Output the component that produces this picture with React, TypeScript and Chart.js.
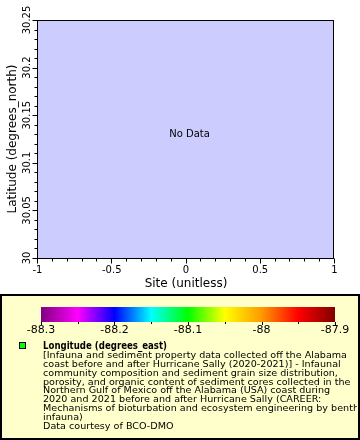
import React, { useEffect, useRef } from 'react';
import { Chart, registerables } from 'chart.js';

Chart.register(...registerables);

// ---- data ----
const xRange = [-1, 1];
const yRange = [30, 30.25];
const xTicks = [-1, -0.5, 0, 0.5, 1];
const xTickLabels = ['-1', '-0.5', '0', '0.5', '1'];
const xMinorStep = 0.1;
const yTicks = [30, 30.05, 30.1, 30.15, 30.2, 30.25];
const yTickLabels = ['30', '30.05', '30.1', '30.15', '30.2', '30.25'];
const yMinorStep = 0.01;
const siteValues: number[] = [];
const latitudeValues: number[] = [];
const xTitle = 'Site (unitless)';
const yTitle = 'Latitude (degrees_north)';
const noDataText = 'No Data';

const colorbarRange = [-88.3, -87.9];
const colorbarTicks = [-88.3, -88.2, -88.1, -88, -87.9];
const colorbarLabels = ['-88.3', '-88.2', '-88.1', '-88', '-87.9'];
const colorbarMinorStep = 0.05;
const colorbarColors = ['#800080', '#ff00ff', '#0000ff', '#00ffff', '#00ff00', '#ffff00', '#ff9900', '#ff0000', '#800000'];

const legendTitle = 'Longitude (degrees_east)';
const legendLines = [
  '[Infauna and sediment property data collected off the Alabama',
  'coast before and after Hurricane Sally (2020-2021)] - Infaunal',
  'community composition and sediment grain size distribution,',
  'porosity, and organic content of sediment cores collected in the',
  'Northern Gulf of Mexico off the Alabama (USA) coast during',
  '2020 and 2021 before and after Hurricane Sally (CAREER:',
  'Mechanisms of bioturbation and ecosystem engineering by benthic',
  'infauna)',
  'Data courtesy of BCO-DMO',
];

const FONT = '"DejaVu Sans", sans-serif';

function steps(min: number, max: number, step: number): number[] {
  const out: number[] = [];
  const n = Math.round((max - min) / step);
  for (let i = 0; i <= n; i++) out.push(min + i * step);
  return out;
}

const drawPlugin = {
  id: 'erddapDraw',
  beforeDraw(chart: any) {
    const ctx: CanvasRenderingContext2D = chart.ctx;
    const { left, right, top, bottom } = chart.chartArea;
    ctx.save();
    ctx.fillStyle = '#ffffff';
    ctx.fillRect(0, 0, chart.width, chart.height);
    ctx.fillStyle = '#ccccff';
    ctx.fillRect(left, top, right - left, bottom - top);
    ctx.restore();
  },
  afterDraw(chart: any) {
    const ctx: CanvasRenderingContext2D = chart.ctx;
    const xs = chart.scales.x;
    const ys = chart.scales.y;
    const { left, right, top, bottom } = chart.chartArea;
    ctx.save();
    ctx.strokeStyle = '#000';
    ctx.fillStyle = '#000';
    ctx.lineWidth = 1;
    // frame
    ctx.strokeRect(left + 0.5, top + 0.5, right - left - 1, bottom - top);

    // x ticks
    const bl = Math.round(bottom) + 0.5;
    steps(xRange[0], xRange[1], xMinorStep).forEach((v) => {
      const major = xTicks.some((t) => Math.abs(t - v) < 1e-9);
      const px = Math.round(xs.getPixelForValue(v)) + 0.5;
      ctx.beginPath();
      ctx.moveTo(px, bl);
      ctx.lineTo(px, bl + (major ? 5 : 3));
      ctx.stroke();
    });
    ctx.font = `10px ${FONT}`;
    ctx.textAlign = 'center';
    ctx.textBaseline = 'middle';
    xTicks.forEach((v, i) => {
      ctx.fillText(xTickLabels[i], xs.getPixelForValue(v) + 0.5, bottom + 12);
    });

    // y ticks
    const ll = Math.round(left) + 0.5;
    steps(yRange[0], yRange[1], yMinorStep).forEach((v) => {
      const major = yTicks.some((t) => Math.abs(t - v) < 1e-9);
      const py = Math.round(ys.getPixelForValue(v)) + 0.5;
      ctx.beginPath();
      ctx.moveTo(ll, py);
      ctx.lineTo(ll - (major ? 5 : 3), py);
      ctx.stroke();
    });
    yTicks.forEach((v, i) => {
      ctx.save();
      ctx.translate(left - 9.5, ys.getPixelForValue(v));
      ctx.rotate(-Math.PI / 2);
      ctx.fillText(yTickLabels[i], 0, 0);
      ctx.restore();
    });

    // titles
    ctx.font = `12px ${FONT}`;
    ctx.fillText(xTitle, (left + right) / 2 + 0.5, bottom + 26);
    ctx.save();
    ctx.translate(12.5, (top + bottom) / 2);
    ctx.rotate(-Math.PI / 2);
    ctx.fillText(yTitle, 0, 0);
    ctx.restore();

    // no data
    if (siteValues.length === 0 || latitudeValues.length === 0) {
      ctx.font = `10px ${FONT}`;
      ctx.fillText(noDataText, (left + right) / 2 + 4, (top + bottom) / 2 - 4.5);
    }

    // legend box
    const bx = 0, by = 294, bw = 359, bh = 145;
    ctx.fillStyle = '#ffffcc';
    ctx.fillRect(bx, by, bw, bh);
    ctx.lineWidth = 2;
    ctx.strokeStyle = '#000';
    ctx.strokeRect(bx + 1, by + 1, bw - 1, bh - 1);

    // colorbar
    const cbL = 41, cbR = 335, cbT = 307, cbB = 322;
    const cbPix = (v: number) => cbL + ((v - colorbarRange[0]) / (colorbarRange[1] - colorbarRange[0])) * (cbR - cbL);
    const grad = ctx.createLinearGradient(cbL, 0, cbR, 0);
    colorbarColors.forEach((c, i) => grad.addColorStop(i / (colorbarColors.length - 1), c));
    ctx.fillStyle = grad;
    ctx.fillRect(cbL, cbT, cbR - cbL, cbB - cbT);
    ctx.lineWidth = 1;
    steps(colorbarRange[0], colorbarRange[1], colorbarMinorStep).forEach((v) => {
      const major = colorbarTicks.some((t) => Math.abs(t - v) < 1e-9);
      const px = Math.round(cbPix(v)) + 0.5;
      ctx.beginPath();
      ctx.moveTo(px, cbB);
      ctx.lineTo(px, cbB + (major ? 3 : 2));
      ctx.stroke();
    });
    ctx.fillStyle = '#000';
    ctx.font = `11px ${FONT}`;
    ctx.textAlign = 'center';
    colorbarTicks.forEach((v, i) => {
      ctx.fillText(colorbarLabels[i], cbPix(v), 330.5);
    });

    // legend marker
    ctx.fillStyle = '#00ff00';
    ctx.fillRect(20, 343, 6, 6);
    ctx.strokeStyle = '#000';
    ctx.strokeRect(19.5, 342.5, 6, 6);

    // legend text
    ctx.save();
    ctx.beginPath();
    ctx.rect(bx + 2, by + 2, bw - 4, bh - 4);
    ctx.clip();
    ctx.fillStyle = '#000';
    ctx.textAlign = 'left';
    ctx.textBaseline = 'middle';
    ctx.font = `bold 10px ${FONT}`;
    const tw = ctx.measureText(legendTitle).width;
    const tsx = 124 / tw;
    ctx.save();
    ctx.translate(43, 346);
    ctx.scale(tsx, 1);
    ctx.fillText(legendTitle, 0, 0);
    ctx.restore();
    ctx.font = `9px ${FONT}`;
    const lw = ctx.measureText(legendLines[0]).width;
    const lsx = 304 / lw;
    legendLines.forEach((line, i) => {
      ctx.save();
      ctx.translate(43, 355.5 + i * 8.9);
      ctx.scale(lsx, 1);
      ctx.fillText(line, 0, 0);
      ctx.restore();
    });
    ctx.restore();

    ctx.restore();
  },
};

export default function App() {
  const ref = useRef<HTMLCanvasElement | null>(null);
  useEffect(() => {
    document.body.style.margin = '0';
    if (!ref.current) return;
    const chart = new Chart(ref.current, {
      type: 'scatter',
      data: {
        datasets: [
          {
            label: legendTitle,
            data: siteValues.map((s, i) => ({ x: s, y: latitudeValues[i] })),
            backgroundColor: '#00ff00',
          },
        ],
      },
      options: {
        animation: false,
        responsive: false,
        devicePixelRatio: 1,
        layout: { padding: { left: 37, top: 20, right: 26, bottom: 182 } },
        plugins: { legend: { display: false }, tooltip: { enabled: false } },
        scales: {
          x: { type: 'linear', min: xRange[0], max: xRange[1], display: false },
          y: { type: 'linear', min: yRange[0], max: yRange[1], display: false },
        },
      },
      plugins: [drawPlugin],
    });
    return () => chart.destroy();
  }, []);
  return (
    <div style={{ position: 'absolute', left: 0, top: 0, width: 360, height: 440 }}>
      <canvas ref={ref} width={360} height={440} style={{ display: 'block' }} />
    </div>
  );
}
